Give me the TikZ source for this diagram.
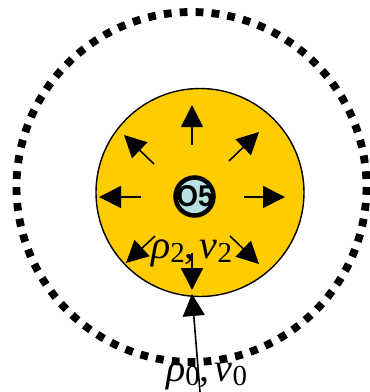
\documentclass[tikz,border=0pt]{standalone}
\usepackage{fontspec}
\setmainfont{Liberation Serif}
\newfontfamily\osans{Liberation Sans}
\usetikzlibrary{arrows.meta}
\definecolor{gold}{HTML}{FFCC00}
\definecolor{paleblue}{HTML}{B9E0E4}
\tikzset{
  radial/.style={line width=1.6pt,-{Triangle[length=22pt,width=22pt]}},
  lbl/.style={inner sep=0pt,anchor=base west,font=\fontsize{40}{40}\selectfont},
}
\newcommand{\bigsub}[1]{\raisebox{-4pt}{\fontsize{29}{29}\selectfont #1}}
\begin{document}
\begin{tikzpicture}[x=1pt,y=-1pt]
\useasboundingbox (0,0) rectangle (370,392);
% outer dotted circle
\draw[line width=7.8pt,dash pattern=on 7.8pt off 8.14pt] (191.5,187) circle[radius=175];
% yellow region
\node[circle,draw=black,line width=1.4pt,fill=gold,minimum size=208pt,inner sep=0pt] (core) at (200,192.5) {};
% centre
\node[circle,draw=black,line width=4.5pt,fill=paleblue,minimum size=38pt,inner sep=0pt] (ctr) at (194.5,196.5) {};
\node[inner sep=0pt,font=\osans\bfseries\fontsize{30}{30}\selectfont,xscale=0.92] (o5) at (195,196.5) {O5};
% radial arrows
\coordinate (uS) at (192,145); \coordinate (uT) at (192,105);
\coordinate (rS) at (244,197); \coordinate (rT) at (285,197);
\coordinate (lS) at (141,197); \coordinate (lT) at (99,197);
\coordinate (urS) at (229,161); \coordinate (urT) at (259,132);
\coordinate (ulS) at (154,164); \coordinate (ulT) at (124,135);
\coordinate (dlS) at (155,236); \coordinate (dlT) at (126,263);
\coordinate (drS) at (230,236); \coordinate (drT) at (259,264);
\coordinate (dS) at (192,253); \coordinate (dT) at (192,290);
\foreach \a in {u,r,l,ur,ul,dl,dr,d} \draw[radial] (\a S) -- (\a T);
% labels
\node[lbl] (in) at (151,258) {\textit{ρ}\bigsub{2},\hspace{5pt}\textit{v}\bigsub{2}};
\node[lbl] (out) at (166,381) {\textit{ρ}\bigsub{0},\hspace{5pt}\textit{v}\bigsub{0}};
% inflow arrow
\coordinate (bot) at (200,392); \coordinate (inT) at (192,294);
\draw[radial] (bot) -- (inT);
\end{tikzpicture}
\end{document}
